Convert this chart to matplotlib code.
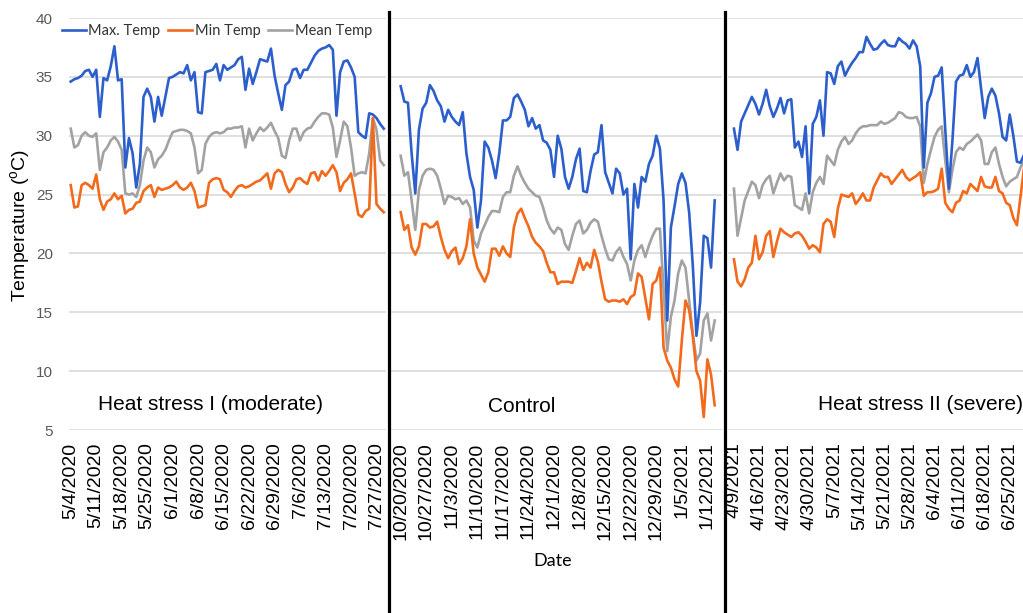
import numpy as np
import matplotlib
matplotlib.use("Agg")
import matplotlib.pyplot as plt
from matplotlib.lines import Line2D

plt.rcParams["font.family"] = ["Liberation Sans", "DejaVu Sans"]
plt.rcParams["mathtext.fontset"] = "custom"
plt.rcParams["mathtext.rm"] = "Liberation Sans"

# ---------------- data (daily values) ----------------
series_names = ["Max. Temp", "Min Temp", "Mean Temp"]
panel_titles = ["Heat stress I (moderate)", "Control", "Heat stress II (severe)"]

p1_ticklabels = ["5/4/2020", "5/11/2020", "5/18/2020", "5/25/2020", "6/1/2020", "6/8/2020",
                 "6/15/2020", "6/22/2020", "6/29/2020", "7/6/2020", "7/13/2020", "7/20/2020",
                 "7/27/2020"]
p2_ticklabels = ["10/20/2020", "10/27/2020", "11/3/2020", "11/10/2020", "11/17/2020",
                 "11/24/2020", "12/1/2020", "12/8/2020", "12/15/2020", "12/22/2020",
                 "12/29/2020", "1/5/2021", "1/12/2021"]
p3_ticklabels = ["4/9/2021", "4/16/2021", "4/23/2021", "4/30/2021", "5/7/2021", "5/14/2021",
                 "5/21/2021", "5/28/2021", "6/4/2021", "6/11/2021", "6/18/2021", "6/25/2021"]

p1_max = [34.6, 34.8, 34.9, 35.1, 35.5, 35.6, 35.0, 35.6, 31.6, 34.9,
          34.7, 35.9, 37.6, 34.7, 34.8, 27.3, 29.8, 28.5, 25.6, 27.6,
          33.3, 34.0, 33.3, 31.2, 33.3, 31.7, 33.3, 34.9, 35.0, 35.2,
          35.4, 35.3, 36.0, 34.7, 35.4, 32.0, 31.9, 35.4, 35.5, 35.6,
          36.1, 34.7, 36.0, 35.6, 35.8, 36.0, 36.5, 36.7, 33.9, 35.7,
          34.4, 35.4, 36.5, 36.4, 36.3, 37.4, 35.1, 33.6, 32.2, 34.3,
          34.6, 35.6, 35.7, 34.9, 35.6, 35.6, 36.2, 36.8, 37.2, 37.4,
          37.5, 37.7, 37.3, 31.7, 35.4, 36.3, 36.4, 35.8, 35.0, 30.3,
          30.0, 29.8, 31.9, 31.8, 31.5, 31.0, 30.6]
p1_min = [25.8, 23.9, 24.0, 25.8, 26.0, 25.8, 25.5, 26.7, 24.6, 23.7,
          24.4, 24.6, 25.1, 24.6, 24.9, 23.4, 23.7, 23.8, 24.3, 24.4,
          25.3, 25.6, 25.8, 24.8, 25.6, 25.4, 25.5, 25.6, 25.8, 26.1,
          25.6, 25.4, 25.6, 26.0, 25.3, 23.9, 24.0, 24.1, 26.0, 26.3,
          26.4, 26.3, 25.4, 25.2, 24.8, 25.3, 25.7, 25.8, 25.6, 25.7,
          25.9, 26.1, 26.2, 26.5, 26.8, 25.5, 26.8, 27.1, 26.9, 25.9,
          25.2, 25.6, 26.3, 26.4, 26.1, 25.9, 26.8, 26.9, 26.2, 27.0,
          26.6, 27.0, 27.5, 26.9, 25.3, 26.0, 26.3, 26.8, 25.1, 23.3,
          23.1, 23.6, 23.8, 31.5, 24.2, 23.8, 23.5]
p1_mean = [30.6, 29.0, 29.2, 30.0, 30.3, 30.0, 29.9, 30.2, 27.1, 28.6,
           29.0, 29.6, 29.9, 29.5, 28.8, 25.1, 25.0, 25.1, 24.8, 25.8,
           27.9, 29.0, 28.6, 27.3, 28.0, 28.3, 28.8, 29.6, 30.3, 30.4,
           30.5, 30.5, 30.4, 30.2, 29.0, 26.8, 27.1, 29.3, 29.9, 30.2,
           30.3, 30.2, 30.3, 30.6, 30.6, 30.7, 30.7, 30.8, 29.0, 30.6,
           29.6, 30.2, 30.7, 30.4, 30.7, 31.1, 30.4, 29.8, 28.3, 28.1,
           29.6, 30.6, 30.6, 29.6, 30.3, 30.6, 30.7, 31.2, 31.6, 31.9,
           31.9, 31.8, 30.7, 28.2, 29.6, 31.2, 30.8, 29.0, 26.6, 26.8,
           26.9, 26.8, 28.5, 31.5, 30.5, 27.9, 27.5]

p2_max = [34.2, 32.9, 32.8, 28.5, 25.1, 30.5, 32.3, 32.8, 34.3, 33.8,
          33.0, 32.5, 31.2, 32.2, 31.6, 31.2, 30.9, 32.0, 28.5, 26.5,
          25.4, 22.2, 24.5, 29.5, 29.0, 27.9, 26.4, 28.5, 31.3, 31.3,
          31.6, 33.2, 33.5, 32.9, 32.2, 30.8, 31.5, 30.6, 30.9, 29.6,
          29.4, 28.8, 26.5, 30.0, 28.9, 26.5, 25.5, 26.5, 28.0, 28.9,
          25.3, 25.2, 27.0, 28.4, 28.6, 30.9, 26.9, 26.0, 25.1, 27.2,
          26.8, 25.0, 25.5, 19.5, 25.9, 23.9, 26.5, 26.1, 27.6, 28.3,
          30.0, 28.9, 24.5, 14.3, 22.2, 24.0, 25.9, 26.8, 26.0, 23.5,
          19.0, 13.0, 15.8, 21.5, 21.3, 18.8, 24.5]
p2_min = [23.5, 22.0, 22.4, 20.5, 19.9, 20.6, 22.5, 22.5, 22.2, 22.3,
          22.7, 21.4, 20.3, 19.6, 20.2, 20.5, 19.1, 19.6, 20.6, 22.9,
          20.0, 18.8, 18.2, 17.6, 18.4, 20.4, 20.4, 19.8, 20.6, 20.0,
          19.7, 22.2, 23.4, 23.8, 23.0, 22.3, 21.4, 20.9, 20.6, 20.2,
          19.2, 18.4, 18.4, 17.4, 17.6, 17.6, 17.6, 17.5, 18.5, 19.6,
          18.6, 19.2, 18.8, 20.3, 19.3, 17.6, 16.1, 15.9, 16.0, 16.0,
          15.9, 16.1, 15.7, 16.3, 16.5, 18.3, 18.0, 16.2, 14.4, 17.4,
          17.7, 18.8, 12.0, 10.9, 10.3, 9.3, 8.7, 12.6, 16.0, 15.2,
          13.0, 10.0, 9.2, 6.1, 11.0, 9.7, 7.1]
p2_mean = [28.3, 26.6, 26.9, 24.5, 22.0, 25.4, 26.6, 27.1, 27.2, 27.1,
           26.6, 25.5, 24.2, 24.9, 24.8, 24.6, 24.7, 24.2, 24.5, 23.9,
           21.1, 20.5, 21.7, 22.4, 23.1, 23.6, 23.6, 23.5, 24.8, 25.2,
           25.2, 26.6, 27.4, 26.6, 26.0, 25.5, 25.2, 24.9, 24.8, 23.9,
           22.8, 22.1, 21.7, 22.2, 22.0, 20.8, 20.3, 21.5, 22.5, 22.8,
           21.7, 22.0, 22.6, 22.9, 22.7, 21.5, 20.4, 19.5, 19.4, 20.1,
           20.5, 19.7, 19.1, 17.7, 19.4, 20.3, 20.7, 19.7, 20.7, 21.5,
           22.1, 22.1, 17.0, 11.7, 14.6, 16.0, 18.3, 19.4, 18.8, 16.0,
           13.2, 10.9, 11.5, 14.3, 14.9, 12.6, 14.3]

p3_max = [30.6, 28.8, 31.2, 31.9, 32.6, 33.3, 32.7, 31.8, 32.7, 33.9,
          32.5, 31.6, 32.3, 33.2, 31.9, 33.0, 33.1, 29.0, 29.5, 28.2,
          30.8, 25.1, 31.0, 31.6, 33.0, 30.0, 35.4, 35.3, 34.4, 35.9,
          36.3, 35.1, 35.7, 36.2, 36.6, 37.1, 37.1, 38.4, 37.8, 37.3,
          37.4, 37.8, 38.1, 37.7, 37.6, 37.6, 38.3, 38.0, 37.8, 37.4,
          38.1, 37.6, 35.9, 27.3, 32.8, 33.6, 35.0, 35.1, 35.8, 30.5,
          25.5, 29.6, 34.6, 35.1, 35.2, 36.0, 35.0, 35.4, 36.6, 34.0,
          31.5, 33.3, 34.0, 33.4, 31.9, 29.9, 29.6, 31.8, 30.0, 27.8,
          27.7, 28.4]
p3_min = [19.5, 17.6, 17.2, 17.8, 18.8, 19.2, 21.5, 19.5, 20.1, 21.5,
          21.9, 19.7, 21.0, 22.1, 21.8, 21.6, 21.4, 21.7, 21.8, 21.5,
          21.0, 20.4, 20.7, 20.5, 20.1, 22.5, 22.9, 22.7, 21.4, 23.8,
          25.0, 24.9, 24.8, 25.1, 24.2, 24.6, 25.1, 24.5, 24.5, 25.6,
          26.2, 26.8, 26.5, 26.5, 25.9, 26.3, 26.7, 27.1, 26.5, 26.2,
          26.4, 26.6, 26.9, 24.9, 25.2, 25.2, 25.3, 25.5, 27.2, 24.3,
          23.8, 23.5, 24.3, 24.5, 25.3, 25.1, 25.9, 25.6, 25.3, 26.5,
          25.7, 25.6, 25.6, 26.5, 25.3, 25.1, 24.3, 24.1, 23.0, 22.4,
          24.8, 27.3]
p3_mean = [25.5, 21.5, 23.0, 24.5, 25.3, 26.1, 25.8, 24.7, 25.8, 26.3,
           26.6, 25.1, 26.0, 26.8, 26.2, 26.6, 26.5, 24.1, 23.9, 23.7,
           25.1, 23.4, 25.2, 26.0, 26.5, 25.9, 28.3, 27.9, 27.5, 28.8,
           29.5, 29.9, 29.3, 29.6, 30.2, 30.6, 30.8, 30.8, 30.9, 30.9,
           30.9, 31.2, 31.0, 31.1, 31.3, 31.5, 32.0, 31.9, 31.6, 31.5,
           31.5, 31.6, 30.8, 26.0, 27.6, 28.8, 29.9, 30.5, 30.8, 27.9,
           25.2, 27.1, 28.6, 29.0, 28.8, 29.3, 29.5, 29.8, 30.1, 29.6,
           27.6, 27.6, 28.6, 29.0, 27.6, 26.5, 25.7, 26.1, 26.3, 26.5,
           27.3, 27.9]

y_ticks = [5, 10, 15, 20, 25, 30, 35, 40]

# ---------------- style / layout ----------------
colors = {"Max. Temp": "#2c5fcc", "Min Temp": "#f26a1b", "Mean Temp": "#a2a2a2"}
W, H = 1023, 613
fig = plt.figure(figsize=(W / 100, H / 100), dpi=100)


def fx(px):
    return px / W


def fy(py):
    return 1 - py / H


y_top, y_bot = 18, 430
# (left px, right px, xlim)
layout = [(68.9, 385.6, (-0.5, 86.5)),
          (391.0, 722.0, (-2.65, 88.0)),
          (727.5, 1023.0, (-1.8, 80.7))]

panels = [
    (p1_max, p1_min, p1_mean, p1_ticklabels),
    (p2_max, p2_min, p2_mean, p2_ticklabels),
    (p3_max, p3_min, p3_mean, p3_ticklabels),
]
title_pos = [(210, 405), (522, 407), (920, 404)]

axes = []
for i, ((l, r, xl), (vmax, vmin, vmean, tlabels)) in enumerate(zip(layout, panels)):
    ax = fig.add_axes([fx(l), fy(y_bot), (r - l) / W, (y_bot - y_top) / H])
    axes.append(ax)
    for name, vals in zip(series_names, [vmax, vmin, vmean]):
        x = np.arange(len(vals))
        ax.plot(x, vals, color=colors[name], lw=1.9, label=name,
                solid_joinstyle="round", zorder=3 if name != "Mean Temp" else 2)
    ax.set_xlim(*xl)
    ax.set_ylim(5, 40)
    ax.set_yticks(y_ticks)
    ax.grid(axis="y", color="#d9d9d9", lw=1.2, zorder=0)
    ax.set_axisbelow(True)
    for s in ax.spines.values():
        s.set_visible(False)
    ax.set_xticks(np.arange(len(tlabels)) * 7)
    ax.set_xticklabels(tlabels, rotation=90, fontsize=14, color="black")
    ax.tick_params(axis="x", length=0, pad=9)
    if i == 0:
        ax.tick_params(axis="y", length=0, pad=11.5, labelsize=11, labelcolor="#595959")
    else:
        ax.tick_params(axis="y", length=0, labelleft=False)
    fig.text(fx(title_pos[i][0]), fy(title_pos[i][1]), panel_titles[i],
             fontsize=15, ha="center", va="center", color="black")

# separators
for xs in (388.5, 725.0):
    fig.add_artist(Line2D([fx(xs), fx(xs)], [fy(12), 0], color="black", lw=2.3))

# axis labels
fig.text(fx(21), fy(225), "Temperature ($^{\\rm o}$C)", rotation=90, fontsize=14,
         ha="center", va="center", color="black")
fig.text(fx(553), fy(561), "Date", fontsize=13, ha="center", va="center",
         family=["Lato", "DejaVu Sans"], color="black")

# legend
leg = axes[0].legend(loc="center left", bbox_to_anchor=(fx(62), fy(31)),
                     bbox_transform=fig.transFigure, ncol=3, frameon=False,
                     handlelength=1.65, handletextpad=0.15, columnspacing=0.55,
                     borderpad=0, borderaxespad=0,
                     prop={"family": ["Lato", "DejaVu Sans"], "size": 10.5})
for t in leg.get_texts():
    t.set_color("#333333")

fig.savefig("out.png", dpi=100)
